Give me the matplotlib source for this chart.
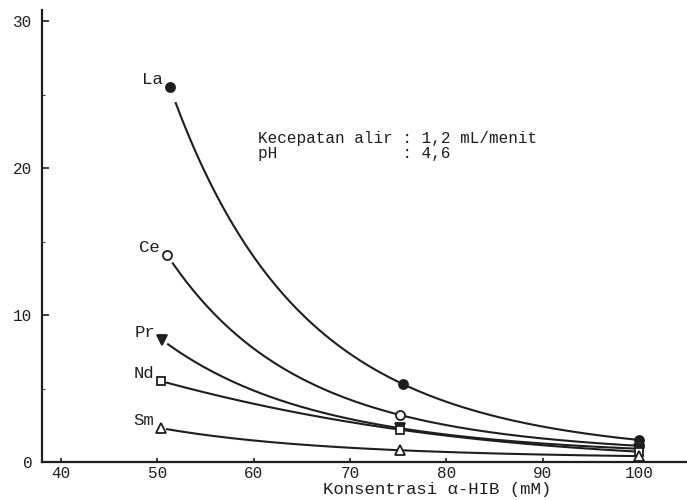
import numpy as np
import matplotlib
matplotlib.use("Agg")
import matplotlib.pyplot as plt

# values
elements = ["La", "Ce", "Pr", "Nd", "Sm"]
conc = {
    "La": [51.3, 75.5, 100],
    "Ce": [51.0, 75.2, 100],
    "Pr": [50.5, 75.2, 100],
    "Nd": [50.4, 75.2, 100],
    "Sm": [50.4, 75.2, 100],
}
retention = {
    "La": [25.5, 5.3, 1.5],
    "Ce": [14.1, 3.2, 1.1],
    "Pr": [8.3, 2.3, 0.9],
    "Nd": [5.5, 2.2, 0.7],
    "Sm": [2.3, 0.8, 0.4],
}
markers = {"La": "o", "Ce": "o", "Pr": "v", "Nd": "s", "Sm": "^"}
filled = {"La": True, "Ce": False, "Pr": True, "Nd": False, "Sm": False}

info_lines = ["Kecepatan alir : 1,2 mL/menit", "pH             : 4,6"]

ink = "#1e1e1e"
plt.rcParams["font.family"] = "Liberation Mono"

fig = plt.figure(figsize=(6.87, 5), dpi=100)
ax = fig.add_axes([0.061, 0.076, 0.939, 0.905])

for el in elements:
    x = np.array(conc[el])
    y = np.array(retention[el])
    # smooth drawing line: quadratic through the points in log space
    p = np.polyfit(x, np.log(y), 2)
    xs = np.linspace(x[0] + 0.6, x[-1], 200)
    ax.plot(xs, np.exp(np.polyval(p, xs)), color=ink, lw=1.5)
    ax.plot(x, y, ls="none", marker=markers[el], ms=6.5 if el != "Nd" else 6,
            mfc=ink if filled[el] else "white", mec=ink, mew=1.3)
    ax.annotate(el, (x[0], y[0]), xytext=(-5, 0), textcoords="offset points",
                ha="right", va="bottom", fontsize=12.5, color=ink)

ax.text(60.4, 22.0, info_lines[0], fontsize=11.5, color=ink, va="center")
ax.text(60.4, 21.0, info_lines[1], fontsize=11.5, color=ink, va="center")

ax.set_xlim(38.0, 105.0)
ax.set_ylim(0, 30.8)
ax.set_xticks([40, 50, 60, 70, 80, 90, 100])
ax.set_yticks([0, 10, 20, 30])
ax.set_yticks([5, 15, 25], minor=True)
ax.tick_params(axis="both", direction="in", color=ink, labelcolor=ink,
               labelsize=11.5, width=1.2)
ax.tick_params(axis="y", length=5, pad=7)
ax.tick_params(axis="x", length=3, pad=3)
ax.tick_params(axis="y", which="minor", length=2, direction="in")

ax.spines["top"].set_visible(False)
ax.spines["right"].set_visible(False)
for side in ["left", "bottom"]:
    ax.spines[side].set_linewidth(1.6)
    ax.spines[side].set_color(ink)

ax.set_xlabel("Konsentrasi α-HIB (mM)", fontsize=12.5, color=ink, labelpad=0)
ax.xaxis.set_label_coords(0.612, -0.044)

fig.savefig("out.png", dpi=100)
